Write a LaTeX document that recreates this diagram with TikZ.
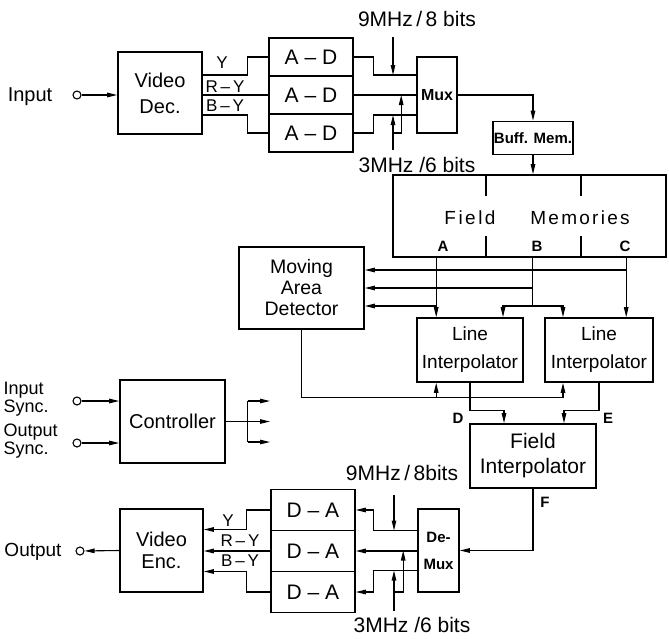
\documentclass[tikz,border=0pt]{standalone}
\usepackage{fontspec}
\setmainfont{Liberation Sans}
\usetikzlibrary{arrows.meta, calc}

\tikzset{
  blk/.style={draw, line width=1.6pt, inner sep=1pt, align=center},
  wire/.style={line width=1.1pt},
  tick/.style={line width=1.6pt},
  arr/.style={wire, -{Triangle[length=10pt, width=4.5pt]}},
  port/.style={circle, draw, line width=1.1pt, minimum size=8pt, inner sep=0pt},
}

\begin{document}
\begin{tikzpicture}[x=1pt, y=-1pt]
\useasboundingbox (0,0) rectangle (669,638);
\fill[white] (0,0) rectangle (669,638);
% input and decoder
\node[font=\fontsize{20}{22}\selectfont] (intxt) at (30,97) {Input};
\node[port] (inp) at (77,95) {};
\node[blk, minimum width=84, minimum height=82, font=\fontsize{20}{26}\selectfont]
  (vdec) at (160,93) {Video\\Dec.};
\draw[arr] (inp) -- (inp -| vdec.west);
\node[blk, minimum width=84, minimum height=38, font=\fontsize{21}{24}\selectfont]
  (ad1) at (311,57) {A -- D};
\node[blk, minimum width=84, minimum height=38, font=\fontsize{21}{24}\selectfont]
  (ad2) at (311,95) {A -- D};
\node[blk, minimum width=84, minimum height=38, font=\fontsize{21}{24}\selectfont]
  (ad3) at (311,133) {A -- D};
\draw[wire] ($(vdec.east)+(0,-18)$) -- ++(45,0) |- (ad1.west);
\draw[wire] (ad2.west -| vdec.east) -- (ad2.west);
\draw[wire] ($(vdec.east)+(0,22)$) -- ++(45,0) |- (ad3.west);
\node[font=\fontsize{17}{20}\selectfont] (ly1) at (222,63) {Y};
\node[font=\fontsize{17}{20}\selectfont] (lry1) at (225,87) {R\,--\,Y};
\node[font=\fontsize{17}{20}\selectfont] (lby1) at (225,106) {B\,--\,Y};
% multiplexer
\node[blk, minimum width=40, minimum height=76, inner sep=0pt, font=\bfseries\fontsize{16}{18}\selectfont]
  (mux) at (437,95) {Mux};
\draw[wire] (ad1.east) -- ++(20,0) |- ($(mux.west)+(0,-20)$);
\draw[wire] (ad2.east) -- (ad2.east -| mux.west);
\draw[wire] (ad3.east) -- ++(20,0) |- ($(mux.west)+(0,20)$);
\node[font=\fontsize{21}{24}\selectfont] (clk9a) at (417,19) {9MHz\,/\,8 bits};
\coordinate (c9a) at (393,37);
\draw[arr] (c9a) -- ($(c9a |- mux.west)+(0,-20)$);
\node[font=\fontsize{21}{24}\selectfont] (clk3a) at (417,165) {3MHz /6 bits};
\coordinate (c3a) at (393,150);
\draw[arr] (c3a) -- ($(c3a |- mux.west)+(0,20)$);
\draw[arr] (c3a |- ad3.east) -| ($(mux.west)+(-15,0)$);
% buffer and field memories
\node[blk, minimum width=80, minimum height=33, inner sep=0pt, font=\bfseries\fontsize{15}{17}\selectfont]
  (buff) at (533,138) {Buff. Mem.};
\draw[arr] (mux.east) -| (buff.north);
\node[blk, minimum width=273, minimum height=82] (fmem) at (529.5,216) {};
\draw[arr] (buff.south) -- (fmem.north -| buff.south);
\draw[tick] ($(fmem.north west)+(94,0)$) -- ++(0,22);
\draw[tick] ($(fmem.north west)+(189,0)$) -- ++(0,22);
\draw[tick] ($(fmem.south west)+(94,0)$) -- ++(0,-22);
\draw[tick] ($(fmem.south west)+(189,0)$) -- ++(0,-22);
\node[font=\fontsize{19}{22}\selectfont\addfontfeature{LetterSpace=13}] (fmtxt1) at (470,218) {Field};
\node[font=\fontsize{19}{22}\selectfont\addfontfeature{LetterSpace=12}] (fmtxt2) at (580,218) {Memories};
\node[font=\bfseries\fontsize{15}{17}\selectfont] (laba) at (443,246) {A};
\node[font=\bfseries\fontsize{15}{17}\selectfont] (labb) at (537,246) {B};
\node[font=\bfseries\fontsize{15}{17}\selectfont] (labc) at (625,246) {C};
\coordinate (pa) at ($(fmem.south west)+(44,0)$);
\coordinate (pb) at ($(fmem.south west)+(140,0)$);
\coordinate (pc) at ($(fmem.south west)+(234,0)$);
% moving area detector and line interpolators
\node[blk, minimum width=125, minimum height=82, font=\fontsize{19.5}{21}\selectfont]
  (mad) at (301.5,288) {Moving\\Area\\Detector};
\node[blk, minimum width=106, minimum height=64, inner sep=0pt, font=\fontsize{19}{28}\selectfont]
  (li1) at (470,350) {Line\\Interpolator};
\node[blk, minimum width=108, minimum height=64, inner sep=0pt, font=\fontsize{19}{28}\selectfont]
  (li2) at (599,350) {Line\\Interpolator};
\draw[arr] (pa) -- (pa |- li1.north);
\draw[arr] (pc) -- (pc |- li2.north);
\coordinate (mc) at ($(mad.east)+(0,-18)$);
\coordinate (mb) at ($(mad.east)+(0,0)$);
\coordinate (ma) at ($(mad.east)+(0,18)$);
\draw[arr] (mc -| pc) -- (mc);
\draw[arr] (mb -| pb) -- (mb);
\draw[arr] (ma -| pa) -- (ma);
\draw[wire] (pb) -- (pb |- ma);
\draw[arr] (pb |- ma) -| ($(li1.north)+(33,0)$);
\draw[arr] (pb |- ma) -| ($(li2.north)+(-36,0)$);
\coordinate (mbus) at ($(mad.south)+(0,68)$);
\draw[wire] (mad.south) -- (mbus);
\draw[arr] (mbus) -| ($(li2.south)+(-36,0)$);
\draw[arr] (mbus -| pa) -- (pa |- li1.south);
% field interpolator
\node[blk, minimum width=126, minimum height=64, font=\fontsize{21}{25}\selectfont]
  (fint) at (533,456) {Field\\Interpolator};
\draw[arr] (li1.south) -- ++(0,28) -| ($(fint.north)+(-29,0)$);
\draw[arr] (li2.south) -- ++(0,28) -| ($(fint.north)+(31,0)$);
\node[font=\bfseries\fontsize{15}{17}\selectfont] (labd) at (458,418) {D};
\node[font=\bfseries\fontsize{15}{17}\selectfont] (labe) at (608,418) {E};
\node[font=\bfseries\fontsize{15}{17}\selectfont] (labf) at (545,502) {F};
% demultiplexer and D-A converters
\node[blk, minimum width=41, minimum height=83, inner sep=0pt, font=\bfseries\fontsize{15}{27}\selectfont]
  (dmux) at (438.5,550.5) {De-\\Mux};
\draw[arr] (fint.south) |- (dmux.east);
\node[blk, minimum width=84, minimum height=41, font=\fontsize{21}{24}\selectfont]
  (da1) at (313,510) {D -- A};
\node[blk, minimum width=84, minimum height=41, font=\fontsize{21}{24}\selectfont]
  (da2) at (313,551) {D -- A};
\node[blk, minimum width=84, minimum height=41, font=\fontsize{21}{24}\selectfont]
  (da3) at (313,592) {D -- A};
\draw[arr] ($(dmux.west)+(0,-20)$) -- ++(-44,0) |- (da1.east);
\draw[arr] (da2.east -| dmux.west) -- (da2.east);
\draw[arr] ($(dmux.west)+(0,20)$) -- ++(-44,0) |- (da3.east);
\node[font=\fontsize{21}{24}\selectfont] (clk9b) at (402,473) {9MHz\,/\,8bits};
\coordinate (c9b) at (394,495);
\draw[arr] (c9b) -- ($(c9b |- dmux.west)+(0,-20)$);
\node[font=\fontsize{21}{24}\selectfont] (clk3b) at (412,625) {3MHz /6 bits};
\coordinate (c3b) at (394,611);
\draw[arr] (c3b) -- ($(c3b |- dmux.west)+(0,20)$);
\draw[arr] (c3b |- da3.east) -| ($(dmux.west)+(-14,0)$);
% video encoder and output
\node[blk, minimum width=83, minimum height=83, font=\fontsize{20}{22}\selectfont]
  (venc) at (161.5,550.5) {Video\\Enc.};
\draw[arr] (da1.west) -- ++(-24,0) |- ($(venc.east)+(0,-21)$);
\draw[arr] (da2.west) -- (da2.west -| venc.east);
\draw[arr] (da3.west) -- ++(-24,0) |- ($(venc.east)+(0,21)$);
\node[font=\fontsize{17}{20}\selectfont] (ly2) at (228,521) {Y};
\node[font=\fontsize{17}{20}\selectfont] (lry2) at (240,541) {R\,--\,Y};
\node[font=\fontsize{17}{20}\selectfont] (lby2) at (240,561) {B\,--\,Y};
\node[port] (outp) at (80,551) {};
\node[font=\fontsize{19}{22}\selectfont] (outtxt) at (33,552) {Output};
\draw[arr] (venc.west) -- (outp);
% controller
\node[blk, minimum width=105, minimum height=83, font=\fontsize{20}{22}\selectfont]
  (ctrl) at (172.5,421.5) {Controller};
\node[port] (isync) at (77,401) {};
\node[port] (osync) at (77,443) {};
\draw[arr] (isync) -- (isync -| ctrl.west);
\draw[arr] (osync) -- (osync -| ctrl.west);
\node[font=\fontsize{18}{18}\selectfont, align=left, anchor=west, inner sep=0.5pt]
  (isynctxt) at (3,399) {Input\\Sync.};
\node[font=\fontsize{18}{18}\selectfont, align=left, anchor=west, inner sep=0.5pt]
  (osynctxt) at (3,441) {Output\\Sync.};
\coordinate (cbus) at ($(ctrl.east)+(22,0)$);
\coordinate (ct1) at (270,401);
\coordinate (ct2) at (270,421.5);
\coordinate (ct3) at (270,442);
\draw[wire] (ctrl.east) -- (cbus);
\draw[wire] (cbus |- ct1) -- (cbus |- ct3);
\draw[arr] (cbus |- ct1) -- (ct1);
\draw[arr] (cbus) -- (ct2);
\draw[arr] (cbus |- ct3) -- (ct3);
\end{tikzpicture}
\end{document}
